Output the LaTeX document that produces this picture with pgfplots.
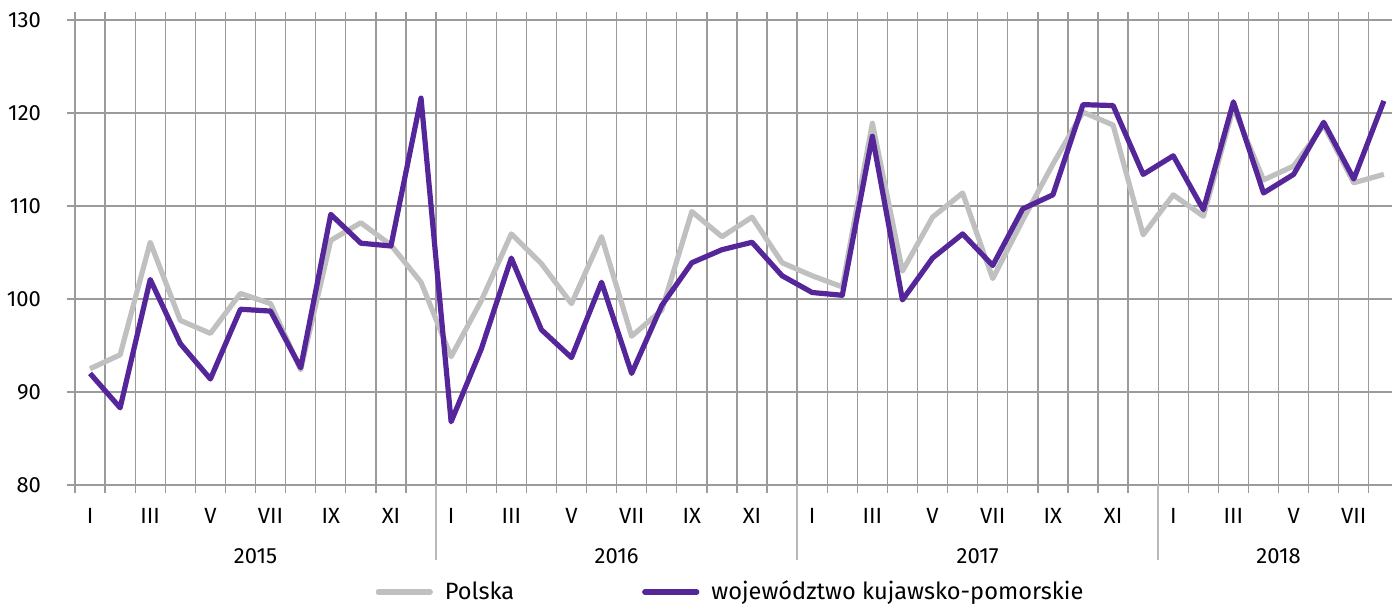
\documentclass[border=0pt]{standalone}
\usepackage{fontspec}
\setmainfont{Fira Sans}
\usepackage{pgfplots}
\pgfplotsset{compat=1.18}
\definecolor{gridc}{RGB}{155,155,155}
\definecolor{sepc}{RGB}{185,185,185}
\definecolor{polc}{RGB}{192,192,192}
\definecolor{kpc}{RGB}{84,38,154}
\begin{document}
\begin{tikzpicture}
\begin{axis}[
  at={(0,0)}, anchor=south west,
  scale only axis,
  width=658.5pt, height=232.5pt,
  xmin=-0.5, xmax=43.27,
  ymin=80, ymax=130,
  clip=false,
  axis line style={draw=none},
  ytick={80,90,...,130},
  ymajorgrids=true,
  xtick={0,2,4,6,8,10,12,14,16,18,20,22,24,26,28,30,32,34,36,38,40,42},
  xticklabels={I,III,V,VII,IX,XI,I,III,V,VII,IX,XI,I,III,V,VII,IX,XI,I,III,V,VII},
  minor xtick={-0.5,0.5,...,43.5},
  xminorgrids=true,
  xmajorgrids=false,
  grid style={draw=gridc, line width=0.65pt},
  minor grid style={draw=gridc, line width=0.65pt},
  tick align=outside,
  major tick length=4pt,
  minor tick length=4pt,
  x tick style={draw=none},
  minor x tick style={draw=gridc, line width=0.65pt},
  y tick style={draw=gridc, line width=0.65pt},
  xticklabel style={anchor=base, yshift=-15pt, font=\fontsize{11}{13}\selectfont},
  yticklabel style={font=\fontsize{11}{13}\selectfont, xshift=-9.5pt},
  /pgf/number format/assume math mode=true,
  legend columns=2,
  legend style={at={(0.4985,-0.23)}, anchor=center, draw=none, fill=none,
    font=\fontsize{11.8}{14}\selectfont,
    /tikz/every odd column/.append style={column sep=4pt},
    /tikz/every even column/.append style={column sep=62pt}},
  legend image code/.code={\draw[#1, line cap=round] (0pt,0pt) -- (26pt,0pt);},
]
\addplot[polc, line width=2.6pt, line join=round] coordinates {
(0,92.5) (1,94.0) (2,106.1) (3,97.7) (4,96.3) (5,100.6) (6,99.5) (7,92.4)
(8,106.3) (9,108.2) (10,105.8) (11,101.8) (12,93.8) (13,99.8) (14,107.0) (15,103.8)
(16,99.5) (17,106.7) (18,96.0) (19,98.8) (20,109.4) (21,106.7) (22,108.8) (23,103.9)
(24,102.5) (25,101.3) (26,118.9) (27,103.0) (28,108.8) (29,111.4) (30,102.2) (31,108.5)
(32,114.5) (33,120.1) (34,118.7) (35,106.9) (36,111.2) (37,108.9) (38,120.6) (39,112.8)
(40,114.3) (41,118.7) (42,112.5) (43,113.4)
};
\addlegendentry{Polska}
\addplot[kpc, line width=2.6pt, line join=round] coordinates {
(0,92.0) (1,88.3) (2,102.1) (3,95.2) (4,91.4) (5,98.9) (6,98.7) (7,92.6)
(8,109.1) (9,106.0) (10,105.7) (11,121.6) (12,86.8) (13,94.6) (14,104.4) (15,96.7)
(16,93.7) (17,101.8) (18,92.0) (19,99.3) (20,103.9) (21,105.3) (22,106.1) (23,102.5)
(24,100.7) (25,100.4) (26,117.5) (27,99.9) (28,104.4) (29,107.0) (30,103.6) (31,109.7)
(32,111.2) (33,120.9) (34,120.8) (35,113.4) (36,115.4) (37,109.6) (38,121.2) (39,111.4)
(40,113.4) (41,119.0) (42,112.9) (43,121.3)
};
\addlegendentry{województwo kujawsko-pomorskie}
\draw[sepc, line width=0.8pt] (axis cs:11.5,80) -- ([yshift=-37.5pt]axis cs:11.5,80);
\draw[sepc, line width=0.8pt] (axis cs:23.5,80) -- ([yshift=-37.5pt]axis cs:23.5,80);
\draw[sepc, line width=0.8pt] (axis cs:35.5,80) -- ([yshift=-37.5pt]axis cs:35.5,80);
\node[anchor=base, font=\fontsize{11}{13}\selectfont] at ([yshift=-39pt]axis cs:5.5,80) {2015};
\node[anchor=base, font=\fontsize{11}{13}\selectfont] at ([yshift=-39pt]axis cs:17.5,80) {2016};
\node[anchor=base, font=\fontsize{11}{13}\selectfont] at ([yshift=-39pt]axis cs:29.5,80) {2017};
\node[anchor=base, font=\fontsize{11}{13}\selectfont] at ([yshift=-39pt]axis cs:39.5,80) {2018};
\end{axis}
\pgfresetboundingbox
\useasboundingbox (-37.5pt,-60pt) rectangle (658.5pt,242.5pt);
\end{tikzpicture}
\end{document}
